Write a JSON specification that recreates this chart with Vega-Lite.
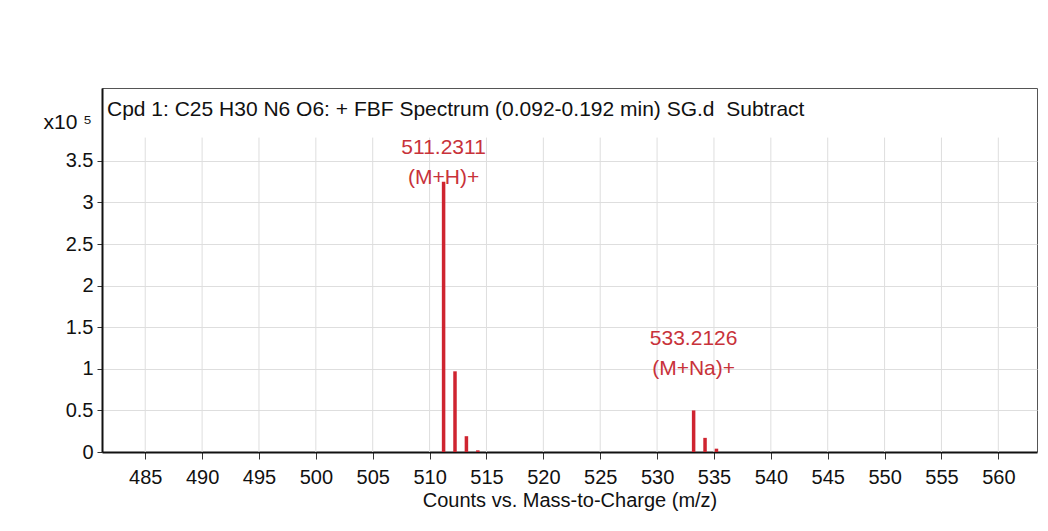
{
  "$schema": "https://vega.github.io/schema/vega-lite/v6.json",
  "width": 935,
  "height": 364,
  "autosize": {"type": "none"},
  "padding": {"left": 102, "top": 88, "right": 11, "bottom": 79},
  "background": "white",
  "config": {
    "font": "Liberation Sans",
    "view": {"stroke": "#555555", "strokeWidth": 1}
  },
  "title": {
    "text": "Cpd 1: C25 H30 N6 O6: + FBF Spectrum (0.092-0.192 min) SG.d\u00a0 Subtract",
    "anchor": "start",
    "frame": "group",
    "orient": "top",
    "offset": -49,
    "baseline": "alphabetic",
    "dx": 5,
    "fontSize": 21,
    "fontWeight": "normal",
    "color": "#111111",
    "font": "Liberation Sans"
  },
  "datasets": {
    "peaks": [
      {"mz": 511.2311, "i": 3.25},
      {"mz": 512.234, "i": 0.97},
      {"mz": 513.237, "i": 0.19},
      {"mz": 514.24, "i": 0.02},
      {"mz": 533.2126, "i": 0.5},
      {"mz": 534.216, "i": 0.17},
      {"mz": 535.22, "i": 0.04}
    ],
    "ticks": [
      {"t": 485}, {"t": 490}, {"t": 495}, {"t": 500}, {"t": 505}, {"t": 510}, {"t": 515}, {"t": 520},
      {"t": 525}, {"t": 530}, {"t": 535}, {"t": 540}, {"t": 545}, {"t": 550}, {"t": 555}, {"t": 560}
    ],
    "notes": [
      {"mz": 511.2311, "i": 3.25, "label": ["511.2311", "(M+H)+"]},
      {"mz": 533.2126, "i": 0.5, "label": ["533.2126", "(M+Na)+"]}
    ]
  },
  "layer": [
    {
      "data": {"name": "ticks"},
      "mark": {"type": "rule", "color": "#dedede", "strokeWidth": 1},
      "encoding": {
        "x": {
          "field": "t", "type": "quantitative",
          "scale": {"domain": [481.2, 563.4], "nice": false, "zero": false},
          "axis": {
            "title": "Counts vs. Mass-to-Charge (m/z)",
            "values": [485, 490, 495, 500, 505, 510, 515, 520, 525, 530, 535, 540, 545, 550, 555, 560],
            "grid": false,
            "domainColor": "#111111", "domainWidth": 2,
            "tickColor": "#333333", "tickSize": 7,
            "labelFontSize": 20, "labelColor": "#111111", "labelPadding": 8,
            "labelOverlap": false, "labelFlush": false,
            "titleFontSize": 20, "titleFontWeight": "normal", "titleColor": "#111111", "titlePadding": 3
          }
        },
        "y": {
          "datum": 0, "type": "quantitative",
          "scale": {"domain": [0, 4.376], "nice": false},
          "axis": {
            "title": "x10 \u2075",
            "values": [0, 0.5, 1, 1.5, 2, 2.5, 3, 3.5],
            "format": ".1~f",
            "grid": true, "gridColor": "#dedede",
            "domainColor": "#111111", "domainWidth": 2,
            "tickColor": "#333333", "tickSize": 5,
            "labelFontSize": 20, "labelColor": "#111111", "labelPadding": 4, "labelOverlap": false,
            "titleAngle": 0, "titleAlign": "left", "titleBaseline": "alphabetic",
            "titleX": -59, "titleY": 40,
            "titleFontSize": 21, "titleFontWeight": "normal", "titleColor": "#111111"
          }
        },
        "y2": {"datum": 3.78}
      }
    },
    {
      "data": {"name": "peaks"},
      "mark": {"type": "rule", "color": "#cf2430", "strokeWidth": 3.5},
      "encoding": {
        "x": {"field": "mz", "type": "quantitative"},
        "y": {"field": "i", "type": "quantitative"},
        "y2": {"datum": 0}
      }
    },
    {
      "data": {"name": "notes"},
      "transform": [{"filter": "datum.mz < 520"}],
      "mark": {"type": "text", "color": "#c8323a", "fontSize": 21, "lineHeight": 30, "baseline": "bottom", "align": "center", "dy": -24},
      "encoding": {
        "x": {"field": "mz", "type": "quantitative"},
        "y": {"field": "i", "type": "quantitative"},
        "text": {"field": "label"}
      }
    },
    {
      "data": {"name": "notes"},
      "transform": [{"filter": "datum.mz > 520"}],
      "mark": {"type": "text", "color": "#c8323a", "fontSize": 21, "lineHeight": 30, "baseline": "bottom", "align": "center", "dy": -61},
      "encoding": {
        "x": {"field": "mz", "type": "quantitative"},
        "y": {"field": "i", "type": "quantitative"},
        "text": {"field": "label"}
      }
    }
  ]
}
